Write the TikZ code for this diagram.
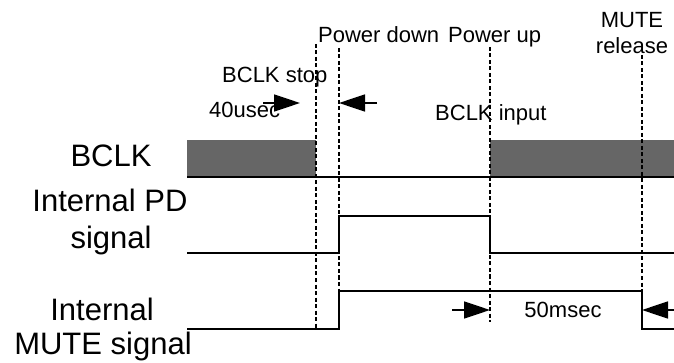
\documentclass[tikz,border=0pt]{standalone}
\usepackage{fontspec}
\setmainfont{Liberation Sans}
\usetikzlibrary{arrows.meta}
\begin{document}
\begin{tikzpicture}[x=1pt,y=-1pt,
  sig/.style={line width=1.7pt, line join=miter},
  guide/.style={line width=1.3pt, dash pattern=on 4pt off 2.5pt},
  clk/.style={fill=black!60, draw=none},
  small/.style={font=\fontsize{22}{26}\selectfont, inner sep=0pt},
  big/.style={font=\fontsize{31}{36}\selectfont, inner sep=0pt},
  tarrow/.style={line width=1.7pt, -{Triangle[length=26pt,width=17pt]}}
]
\useasboundingbox (0,0) rectangle (674,363);
% clock bursts
\fill[clk] (187,140) rectangle (316,177);
\fill[clk] (490,140) rectangle (674,177);
% signals
\draw[sig] (187,177) -- (674,177);
\draw[sig] (187,253) -- (339,253) -- (339,216) -- (490,216) -- (490,253) -- (674,253);
\draw[sig] (187,329) -- (339,329) -- (339,291) -- (642,291) -- (642,329) -- (674,329);
% guide coordinates
\coordinate (g1t) at (316,44);  \coordinate (g1b) at (316,329);
\coordinate (g2t) at (339,48);  \coordinate (g2b) at (339,329);
\coordinate (g3t) at (490,47);  \coordinate (g3b) at (490,322);
\coordinate (g4t) at (642,55);  \coordinate (g4b) at (642,291);
\draw[guide] (g1t) -- (g1b);
\draw[guide] (g2t) -- (g2b);
\draw[guide] (g3t) -- (g3b);
\draw[guide] (g4t) -- (g4b);
% left labels
\node[big, anchor=base] (lclk) at (111,167) {BCLK};
\node[big, anchor=base] (lpda) at (110,212) {Internal PD};
\node[big, anchor=base] (lpdb) at (111,248) {signal};
\node[big, anchor=base] (lmua) at (102,320) {Internal};
\node[big, anchor=base] (lmub) at (103,354) {MUTE signal};
% event labels
\node[small, anchor=base west] (tpd) at (318,43) {Power down};
\node[small, anchor=base west] (tpu) at (448,43) {Power up};
\node[small, anchor=base west] (tstop) at (222,83) {BCLK stop};
\node[small, anchor=base west] (t40) at (209,118) {40usec};
\node[small, anchor=base west] (tin) at (435,121) {BCLK input};
\node[small, anchor=base] (tmute) at (632,28) {MUTE};
\node[small, anchor=base] (trel) at (632,54) {release};
\node[small, anchor=base] (t50) at (563,317) {50msec};
% arrows
\coordinate (a1s) at (263,103); \coordinate (a1e) at (300,103);
\coordinate (a2s) at (377,103); \coordinate (a2e) at (339,103);
\coordinate (a3s) at (452,310); \coordinate (a3e) at (490,310);
\coordinate (a4s) at (674,310); \coordinate (a4e) at (642,310);
\draw[tarrow] (a1s) -- (a1e);
\draw[tarrow] (a2s) -- (a2e);
\draw[tarrow] (a3s) -- (a3e);
\draw[tarrow] (a4s) -- (a4e);
\end{tikzpicture}
\end{document}
